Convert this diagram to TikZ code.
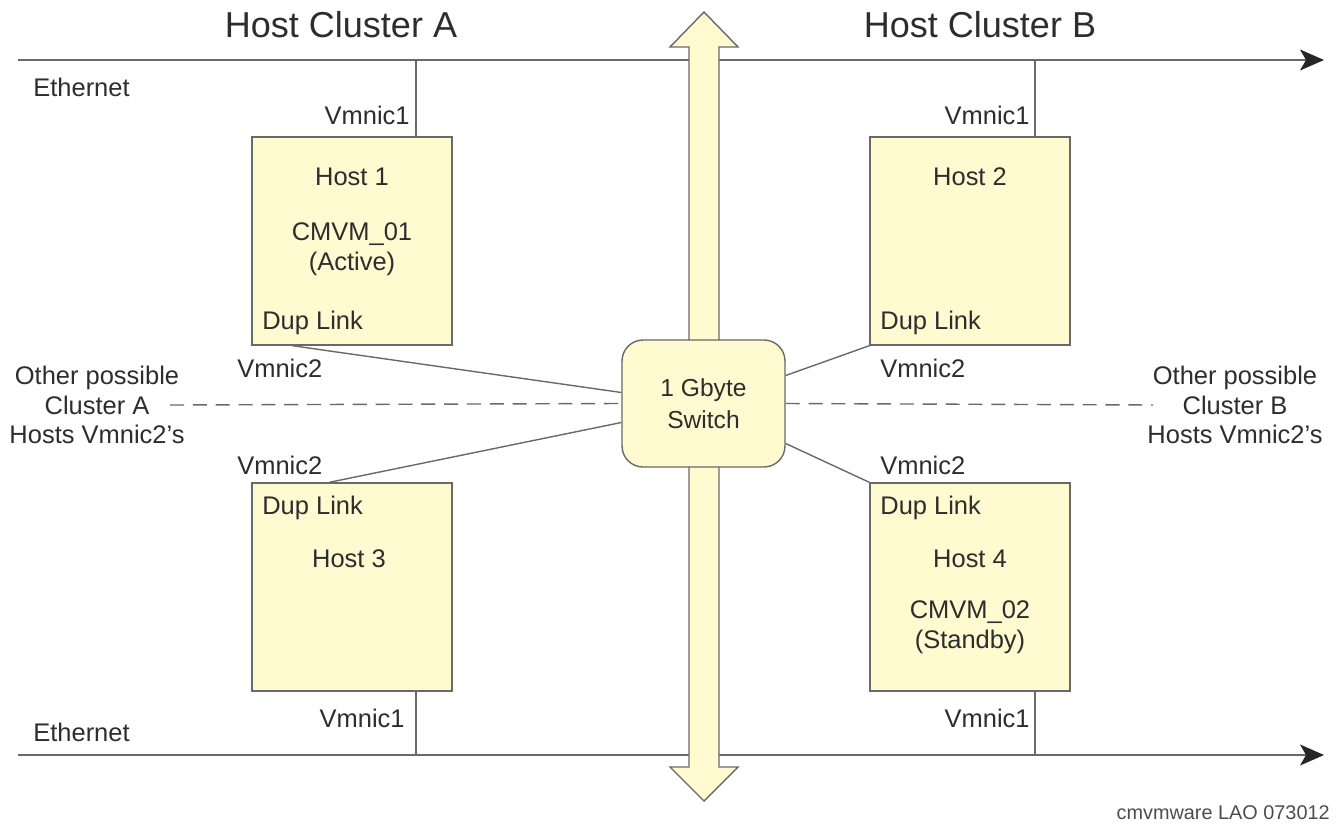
\documentclass[tikz,border=0pt]{standalone}
\usepackage{fontspec}
\setmainfont{Liberation Sans}
\usetikzlibrary{arrows.meta, calc}
\definecolor{hostfill}{RGB}{255,250,208}
\definecolor{edgegray}{RGB}{105,105,105}
\definecolor{textgray}{RGB}{45,45,45}

\tikzset{
    hostbox/.style={draw=edgegray, fill=hostfill, line width=0.8pt, minimum width=4cm, minimum height=4.16cm, inner sep=0pt},
    switchbox/.style={draw=edgegray, fill=hostfill, line width=0.8pt, rounded corners=0.42cm, minimum width=3.26cm, minimum height=2.54cm, align=center, font=\fontsize{14}{18.5}\selectfont, text=textgray},
    lbl/.style={inner sep=0pt, text=textgray, font=\fontsize{14.5}{17}\selectfont},
    sidelbl/.style={lbl, align=center},
    title/.style={inner sep=0pt, text=textgray, font=\fontsize{20.5}{23}\selectfont},
    wire/.style={draw=edgegray, line width=0.8pt},
    ether/.style={wire, -{Stealth[length=0.48cm, width=0.42cm, inset=0.12cm, color=black!85]}}
}

\begin{document}
\begin{tikzpicture}[x=0.02cm, y=-0.02cm]

    \useasboundingbox (0,0) rectangle (1340,825);

    % ethernet rails
    \coordinate(ta) at (18,60);
    \coordinate(tb) at (1324,60);
    \coordinate(ba) at (18,755);
    \coordinate(bb) at (1324,755);
    \draw[ether] (ta) -- (tb);
    \draw[ether] (ba) -- (bb);

    % big double arrow across the clusters
    \draw[edgegray, fill=hostfill, line width=0.8pt, line join=miter]
        (704,12) -- (738,47) -- (719,47) -- (719,767) -- (738,767) -- (704,801)
        -- (670,767) -- (689,767) -- (689,47) -- (670,47) -- cycle;

    % hosts and switch
    \node(h1)[hostbox] at (352,241) {};
    \node(h2)[hostbox] at (970,241) {};
    \node(h3)[hostbox] at (352,587) {};
    \node(h4)[hostbox] at (970,587) {};
    \node(sw)[switchbox] at (703.5,403.5) {1 Gbyte\\Switch};

    % vmnic1 drops
    \coordinate(d1) at (416,60);
    \coordinate(d2) at (1035,60);
    \coordinate(d3) at (416,755);
    \coordinate(d4) at (1035,755);
    \draw[wire] (d1) -- (d1 |- h1.north);
    \draw[wire] (d2) -- (d2 |- h2.north);
    \draw[wire] (d3) -- (d3 |- h3.south);
    \draw[wire] (d4) -- (d4 |- h4.south);

    % vmnic2 links to the switch
    \draw[wire] ($(h1.south west)+(41,0)$) -- ($(sw.west)+(0,-11)$);
    \draw[wire] ($(h3.north west)+(78,0)$) -- ($(sw.west)+(0,19)$);
    \draw[wire] (h2.south west) -- ($(sw.east)+(0,-28)$);
    \draw[wire] (h4.north west) -- ($(sw.east)+(0,40)$);

    % other possible hosts
    \coordinate(oa) at (170,405);
    \coordinate(ob) at (1153,405);
    \draw[wire, dashed, dash pattern=on 8pt off 5pt] (oa) -- (sw.west);
    \draw[wire, dashed, dash pattern=on 8pt off 5pt] (sw.east) -- (ob);

    % titles
    \node(ca)[title] at (341,25) {Host Cluster A};
    \node(cb)[title] at (980,25) {Host Cluster B};
    \node(et)[lbl, anchor=west] at (33,87) {Ethernet};
    \node(eb)[lbl, anchor=west] at (33,732) {Ethernet};

    % vmnic labels
    \node(v11)[lbl, anchor=east] at (410,115) {Vmnic1};
    \node(v21)[lbl, anchor=east] at (1030,115) {Vmnic1};
    \node(v31)[lbl, anchor=east] at (405,718) {Vmnic1};
    \node(v41)[lbl, anchor=east] at (1030,718) {Vmnic1};
    \node(v12)[lbl, anchor=west] at (237,368) {Vmnic2};
    \node(v22)[lbl, anchor=west] at (880,368) {Vmnic2};
    \node(v32)[lbl, anchor=west] at (237,465) {Vmnic2};
    \node(v42)[lbl, anchor=west] at (880,465) {Vmnic2};

    % text inside the hosts
    \node(n1)[lbl] at (352,177) {Host 1};
    \node(m1)[lbl, align=center] at (352,249) {CMVM\_01\\(Active)};
    \node(k1)[lbl, anchor=west] at (262,323) {Dup Link};
    \node(n2)[lbl] at (970,177) {Host 2};
    \node(k2)[lbl, anchor=west] at (880,323) {Dup Link};
    \node(k3)[lbl, anchor=west] at (262,508) {Dup Link};
    \node(n3)[lbl] at (349,559) {Host 3};
    \node(k4)[lbl, anchor=west] at (880,508) {Dup Link};
    \node(n4)[lbl] at (970,559) {Host 4};
    \node(m4)[lbl, align=center] at (970,627) {CMVM\_02\\(Standby)};

    \node(sa)[sidelbl] at (97,405) {Other possible\\Cluster A\\Hosts Vmnic2's};
    \node(sb)[sidelbl] at (1235,405) {Other possible\\Cluster B\\Hosts Vmnic2's};

    \node(ref)[lbl, anchor=east, text=black!70, font=\fontsize{11.3}{13}\selectfont] at (1330,813) {cmvmware LAO 073012};
\end{tikzpicture}
\end{document}
